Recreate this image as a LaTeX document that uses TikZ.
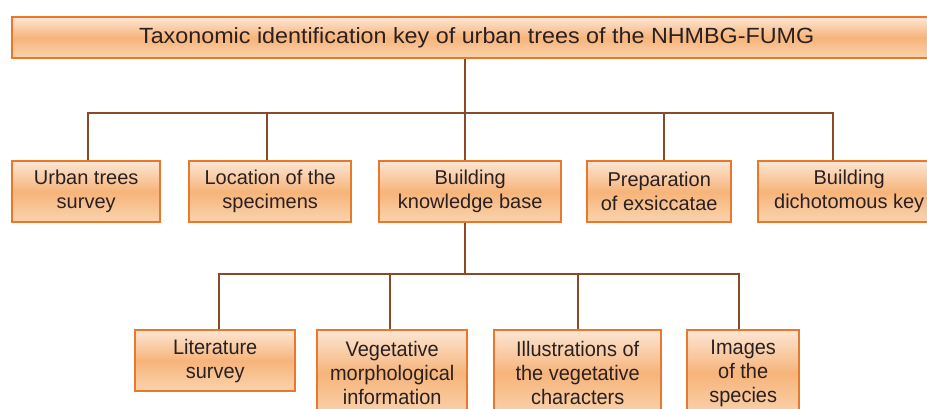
\documentclass[tikz,border=0pt]{standalone}
\usepackage{fontspec}
\setmainfont{Liberation Sans}
\newfontfamily\narrowfont[FakeStretch=0.95]{Liberation Sans}
\newfontfamily\widefont[FakeStretch=1.06]{Liberation Sans}
\definecolor{bordor}{HTML}{E8782A}
\definecolor{ftop}{HTML}{FCE6D4}
\definecolor{fmid}{HTML}{F6B47A}
\definecolor{fbot}{HTML}{FAD3AE}
\definecolor{conn}{HTML}{8A4A2A}
\definecolor{txt}{HTML}{2A2020}
\tikzset{
  box/.style={draw=bordor, line width=2.4pt, top color=ftop, bottom color=fbot, middle color=fmid,
    text=txt, align=center, inner sep=0pt, anchor=north west},
  lnk/.style={draw=conn, line width=1.6pt},
}
\begin{document}
\begin{tikzpicture}[x=1pt,y=-1pt]
\clip (0,0) rectangle (927,408);
\fill[white] (0,0) rectangle (927,408);
% title
\node[box, minimum width=929pt, minimum height=41pt, font=\widefont\fontsize{22}{26}\selectfont] (title) at (11,16) {Taxonomic identification key of urban trees of the NHMBG-FUMG};
% row 1
\begin{scope}[every node/.append style={font=\fontsize{20}{24}\selectfont, minimum height=61pt}]
\node[box, minimum width=148pt] (b1) at (11,160) {Urban trees\\survey};
\node[box, minimum width=162pt] (b2) at (188,160) {Location of the\\specimens};
\node[box, minimum width=182pt] (b3) at (378,160) {Building\\knowledge base};
\node[box, minimum width=144pt] (b4) at (586,160) {Preparation\\of exsiccatae};
\node[box, minimum width=182pt] (b5) at (757,160) {Building\\dichotomous key};
\end{scope}
% row 2
\begin{scope}[every node/.append style={font=\narrowfont\fontsize{21}{24}\selectfont}]
\node[box, minimum width=160pt, minimum height=61pt] (c1) at (134,329) {Literature\\survey};
\node[box, minimum width=150pt, minimum height=86pt] (c2) at (316,329) {Vegetative\\morphological\\information};
\node[box, minimum width=167pt, minimum height=86pt] (c3) at (493,329) {Illustrations of\\the vegetative\\characters};
\node[box, minimum width=112pt, minimum height=86pt] (c4) at (686,329) {Images\\of the\\species};
\end{scope}
% connectors row 1
\coordinate (j1) at (465,113);
\draw[lnk] (465,0 |- title.south) -- (j1);
\draw[lnk] (88,0 |- b1.north) -- (88,113) -- (833,113) -- (833,0 |- b5.north);
\draw[lnk] (267,0 |- b2.north) -- (267,113);
\draw[lnk] (465,0 |- b3.north) -- (j1);
\draw[lnk] (664,0 |- b4.north) -- (664,113);
% connectors row 2
\coordinate (j2) at (465,274);
\draw[lnk] (465,0 |- b3.south) -- (j2);
\draw[lnk] (219,0 |- c1.north) -- (219,274) -- (739,274) -- (739,0 |- c4.north);
\draw[lnk] (390,0 |- c2.north) -- (390,274);
\draw[lnk] (578,0 |- c3.north) -- (578,274);
\end{tikzpicture}
\end{document}
